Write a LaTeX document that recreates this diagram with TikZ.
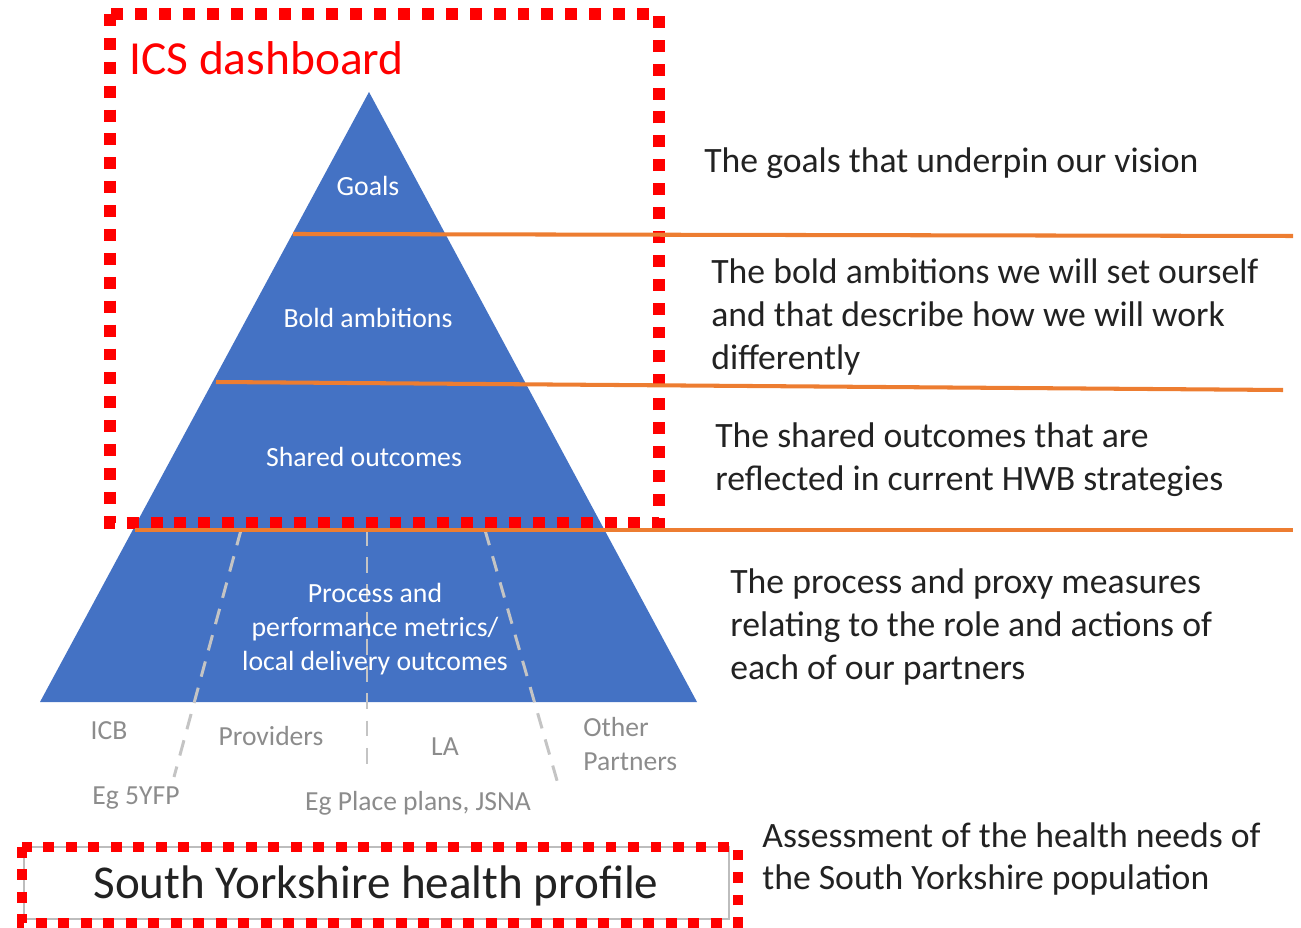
\documentclass[tikz,border=0pt]{standalone}
\usepackage{fontspec}
\setmainfont{Carlito}
\definecolor{pyblue}{HTML}{4472C4}
\definecolor{orng}{HTML}{ED7D31}
\definecolor{lbl}{HTML}{8C8C8C}
\definecolor{lanegray}{HTML}{C4C4C4}
\definecolor{boxgray}{HTML}{BDBDBD}
\definecolor{redd}{HTML}{FF0000}
\definecolor{txt}{HTML}{222222}
\begin{document}
\begin{tikzpicture}[x=0.02cm,y=-0.02cm,
  redbox/.style={draw=redd, line width=6.8pt, dash pattern=on 6.8pt off 6.8pt},
  sepline/.style={draw=orng, line width=2.3pt},
  lane/.style={draw=lanegray, line width=1.7pt, dash pattern=on 9pt off 6.5pt},
  tier/.style={text=white, font=\fontsize{15.8}{19.3}\selectfont, align=center, inner sep=0pt},
  who/.style={text=lbl, font=\fontsize{15.7}{19.3}\selectfont, inner sep=0pt},
  desc/.style={text=txt, font=\fontsize{20.3}{24.4}\selectfont, align=left, anchor=west, inner sep=0pt}]
\useasboundingbox (0,0) rectangle (1301,928);
% pyramid
\coordinate (apex) at (369,92);
\coordinate (bl) at (40,702);
\coordinate (br) at (697,702);
\fill[pyblue] (apex) -- (br) -- (bl) -- cycle;
% lanes
\coordinate (l1a) at (241,530); \coordinate (l1b) at (174,777);
\coordinate (l2a) at (367,530); \coordinate (l2b) at (367,768);
\coordinate (l3a) at (485,530); \coordinate (l3b) at (558,784);
\draw[lane] (l1a) -- (l1b);
\draw[lane] (l2a) -- (l2b);
\draw[lane] (l3a) -- (l3b);
% orange separators
\coordinate (s1a) at (293,234); \coordinate (s1b) at (1293,236);
\coordinate (s2a) at (216,382); \coordinate (s2b) at (1283,390);
\coordinate (s3a) at (135,530); \coordinate (s3b) at (1293,530);
% red ICS box
\draw[redbox] (110,14) rectangle (659,523);
\draw[sepline] (s1a) -- (s1b);
\draw[sepline] (s2a) -- (s2b);
\draw[sepline] (s3a) -- (s3b);
\node[text=redd, font=\fontsize{27}{32}\selectfont, anchor=base west, inner sep=0pt] (ics) at (129,75) {ICS dashboard};
% tier labels
\node[tier] (goals) at (368,186) {Goals};
\node[tier] (bold) at (368,318) {Bold ambitions};
\node[tier] (shared) at (364,457) {Shared outcomes};
\node[tier] (proc) at (375,629) {Process and\\performance metrics/\\local delivery outcomes};
% partner labels
\node[who] (icb) at (109,731) {ICB};
\node[who] (prov) at (271,736) {Providers};
\node[who] (la) at (445,747) {LA};
\node[who, align=left, anchor=west] (other) at (583,744) {Other\\Partners};
\node[who] (eg1) at (136,798) {Eg 5YFP};
\node[who] (eg2) at (418,803) {Eg Place plans, JSNA};
% descriptions
\node[desc] (dgoals) at (704,163) {The goals that underpin our vision};
\node[desc] (dbold) at (711,317) {The bold ambitions we will set ourself\\and that describe how we will work\\differently};
\node[desc] (dshared) at (715,460) {The shared outcomes that are\\reflected in current HWB strategies};
\node[desc] (dproc) at (730,627) {The process and proxy measures\\relating to the role and actions of\\each of our partners};
\node[desc] (dassess) at (762,859) {Assessment of the health needs of\\the South Yorkshire population};
% bottom profile box
\draw[draw=boxgray, line width=1.4pt] (24,847) rectangle (729,919);
\draw[redbox, line width=6.2pt, dash pattern=on 6.2pt off 6.6pt] (22,847) rectangle (738,923);
\node[text=txt, font=\fontsize{26.8}{32}\selectfont, anchor=base, inner sep=0pt] (profile) at (376,898) {South Yorkshire health profile};
\end{tikzpicture}
\end{document}
